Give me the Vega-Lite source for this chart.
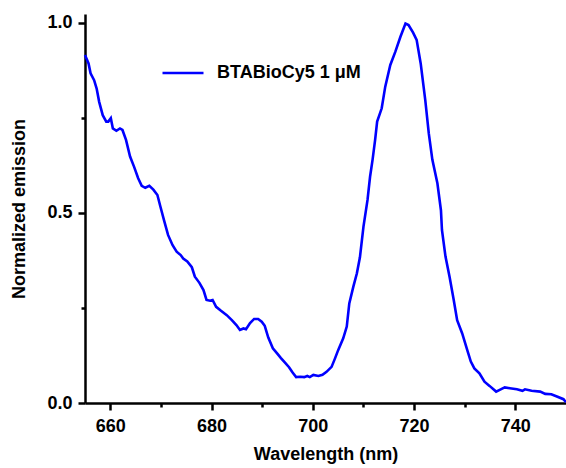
{
  "$schema": "https://vega.github.io/schema/vega-lite/v6.json",
  "width": 481,
  "height": 389,
  "autosize": {"type": "none"},
  "padding": {"left": 85, "top": 14, "right": 0, "bottom": 65},
  "background": "white",
  "config": {"view": {"stroke": null}, "font": "Liberation Sans"},
  "data": {"values": [
    {"wavelength": 655.0, "emission": 0.915},
    {"wavelength": 655.7, "emission": 0.893},
    {"wavelength": 656.1, "emission": 0.867},
    {"wavelength": 656.8, "emission": 0.849},
    {"wavelength": 657.3, "emission": 0.827},
    {"wavelength": 657.8, "emission": 0.792},
    {"wavelength": 658.5, "emission": 0.757},
    {"wavelength": 659.2, "emission": 0.740},
    {"wavelength": 659.6, "emission": 0.740},
    {"wavelength": 660.1, "emission": 0.749},
    {"wavelength": 660.5, "emission": 0.722},
    {"wavelength": 661.2, "emission": 0.716},
    {"wavelength": 661.9, "emission": 0.722},
    {"wavelength": 662.4, "emission": 0.718},
    {"wavelength": 663.1, "emission": 0.692},
    {"wavelength": 663.9, "emission": 0.648},
    {"wavelength": 664.7, "emission": 0.621},
    {"wavelength": 665.5, "emission": 0.591},
    {"wavelength": 666.2, "emission": 0.571},
    {"wavelength": 666.9, "emission": 0.566},
    {"wavelength": 667.7, "emission": 0.571},
    {"wavelength": 668.5, "emission": 0.561},
    {"wavelength": 669.3, "emission": 0.547},
    {"wavelength": 669.9, "emission": 0.516},
    {"wavelength": 670.6, "emission": 0.481},
    {"wavelength": 671.4, "emission": 0.442},
    {"wavelength": 672.3, "emission": 0.415},
    {"wavelength": 673.1, "emission": 0.398},
    {"wavelength": 673.9, "emission": 0.389},
    {"wavelength": 674.4, "emission": 0.380},
    {"wavelength": 675.2, "emission": 0.372},
    {"wavelength": 676.1, "emission": 0.357},
    {"wavelength": 676.7, "emission": 0.332},
    {"wavelength": 677.6, "emission": 0.316},
    {"wavelength": 678.4, "emission": 0.297},
    {"wavelength": 679.0, "emission": 0.271},
    {"wavelength": 679.7, "emission": 0.269},
    {"wavelength": 680.2, "emission": 0.271},
    {"wavelength": 680.9, "emission": 0.253},
    {"wavelength": 681.8, "emission": 0.243},
    {"wavelength": 683.0, "emission": 0.231},
    {"wavelength": 684.0, "emission": 0.218},
    {"wavelength": 684.9, "emission": 0.205},
    {"wavelength": 685.6, "emission": 0.192},
    {"wavelength": 686.3, "emission": 0.196},
    {"wavelength": 686.8, "emission": 0.194},
    {"wavelength": 687.6, "emission": 0.210},
    {"wavelength": 688.4, "emission": 0.221},
    {"wavelength": 689.2, "emission": 0.221},
    {"wavelength": 689.9, "emission": 0.214},
    {"wavelength": 690.5, "emission": 0.203},
    {"wavelength": 691.2, "emission": 0.172},
    {"wavelength": 692.1, "emission": 0.144},
    {"wavelength": 692.9, "emission": 0.131},
    {"wavelength": 693.7, "emission": 0.118},
    {"wavelength": 694.5, "emission": 0.106},
    {"wavelength": 695.3, "emission": 0.094},
    {"wavelength": 696.0, "emission": 0.080},
    {"wavelength": 696.7, "emission": 0.068},
    {"wavelength": 697.5, "emission": 0.069},
    {"wavelength": 698.3, "emission": 0.068},
    {"wavelength": 698.9, "emission": 0.071},
    {"wavelength": 699.4, "emission": 0.068},
    {"wavelength": 700.1, "emission": 0.074},
    {"wavelength": 701.1, "emission": 0.071},
    {"wavelength": 701.9, "emission": 0.074},
    {"wavelength": 702.7, "emission": 0.082},
    {"wavelength": 703.7, "emission": 0.095},
    {"wavelength": 704.4, "emission": 0.118},
    {"wavelength": 705.0, "emission": 0.139},
    {"wavelength": 706.0, "emission": 0.170},
    {"wavelength": 706.7, "emission": 0.201},
    {"wavelength": 707.2, "emission": 0.262},
    {"wavelength": 708.0, "emission": 0.306},
    {"wavelength": 708.7, "emission": 0.341},
    {"wavelength": 709.3, "emission": 0.383},
    {"wavelength": 710.0, "emission": 0.464},
    {"wavelength": 710.8, "emission": 0.534},
    {"wavelength": 711.3, "emission": 0.595},
    {"wavelength": 711.8, "emission": 0.640},
    {"wavelength": 712.3, "emission": 0.692},
    {"wavelength": 712.7, "emission": 0.740},
    {"wavelength": 713.6, "emission": 0.775},
    {"wavelength": 714.3, "emission": 0.832},
    {"wavelength": 715.3, "emission": 0.889},
    {"wavelength": 716.3, "emission": 0.924},
    {"wavelength": 717.3, "emission": 0.963},
    {"wavelength": 718.3, "emission": 0.998},
    {"wavelength": 718.9, "emission": 0.994},
    {"wavelength": 719.8, "emission": 0.974},
    {"wavelength": 720.5, "emission": 0.955},
    {"wavelength": 721.3, "emission": 0.893},
    {"wavelength": 722.2, "emission": 0.797},
    {"wavelength": 722.9, "emission": 0.709},
    {"wavelength": 723.6, "emission": 0.640},
    {"wavelength": 724.6, "emission": 0.578},
    {"wavelength": 725.3, "emission": 0.507},
    {"wavelength": 725.5, "emission": 0.455},
    {"wavelength": 726.2, "emission": 0.385},
    {"wavelength": 727.0, "emission": 0.332},
    {"wavelength": 727.8, "emission": 0.273},
    {"wavelength": 728.5, "emission": 0.218},
    {"wavelength": 729.5, "emission": 0.183},
    {"wavelength": 730.5, "emission": 0.139},
    {"wavelength": 731.2, "emission": 0.109},
    {"wavelength": 731.9, "emission": 0.091},
    {"wavelength": 732.9, "emission": 0.078},
    {"wavelength": 733.9, "emission": 0.056},
    {"wavelength": 734.9, "emission": 0.045},
    {"wavelength": 736.2, "emission": 0.030},
    {"wavelength": 737.1, "emission": 0.036},
    {"wavelength": 737.9, "emission": 0.041},
    {"wavelength": 738.9, "emission": 0.039},
    {"wavelength": 740.3, "emission": 0.036},
    {"wavelength": 741.4, "emission": 0.032},
    {"wavelength": 741.9, "emission": 0.036},
    {"wavelength": 743.2, "emission": 0.032},
    {"wavelength": 744.9, "emission": 0.030},
    {"wavelength": 745.9, "emission": 0.024},
    {"wavelength": 747.1, "emission": 0.023},
    {"wavelength": 748.2, "emission": 0.017},
    {"wavelength": 749.5, "emission": 0.010},
    {"wavelength": 750.0, "emission": 0.002}
  ]},
  "layer": [
    {
      "mark": {"type": "line", "strokeWidth": 2.6, "interpolate": "linear"},
      "encoding": {
        "x": {
          "field": "wavelength", "type": "quantitative",
          "scale": {"domain": [655, 750], "nice": false, "zero": false},
          "axis": {
            "values": [660, 680, 700, 720, 740],
            "title": "Wavelength (nm)",
            "titleFont": "Liberation Sans", "titleFontSize": 18, "titleFontWeight": "bold", "titleColor": "black",
            "labelFont": "Liberation Sans", "labelFontSize": 18, "labelFontWeight": "bold", "labelColor": "black",
            "labelFlush": false, "labelPadding": 7, "titlePadding": 10,
            "domainColor": "black", "domainWidth": 2.5,
            "tickColor": "black", "tickWidth": 2.5, "tickSize": 7,
            "grid": false
          }
        },
        "y": {
          "field": "emission", "type": "quantitative",
          "scale": {"domain": [0, 1.023], "nice": false},
          "axis": {
            "values": [0, 0.5, 1.0],
            "format": ".1f",
            "title": "Normalized emission",
            "titleFont": "Liberation Sans", "titleFontSize": 18, "titleFontWeight": "bold", "titleColor": "black",
            "labelFont": "Liberation Sans", "labelFontSize": 18, "labelFontWeight": "bold", "labelColor": "black",
            "labelFlush": false, "labelPadding": 6, "titlePadding": 18,
            "domainColor": "black", "domainWidth": 2.5,
            "tickColor": "black", "tickWidth": 2.5, "tickSize": 7,
            "grid": false
          }
        },
        "color": {
          "datum": "BTABioCy5 1 μM", "type": "nominal",
          "scale": {"range": ["#0000ff"]},
          "legend": {
            "title": null, "orient": "none", "legendX": 76, "legendY": 37,
            "symbolType": "stroke", "symbolSize": 1681, "symbolStrokeWidth": 2.6,
            "labelFont": "Liberation Sans", "labelFontSize": 18, "labelFontWeight": "bold", "labelColor": "black",
            "labelOffset": 12, "padding": 0
          }
        }
      }
    },
    {
      "mark": {"type": "line", "strokeOpacity": 0},
      "encoding": {
        "x": {
          "field": "wavelength", "type": "quantitative",
          "axis": {
            "orient": "bottom", "values": [670, 690, 710, 730], "labels": false, "domain": false,
            "title": null, "grid": false, "tickColor": "black", "tickWidth": 2.5, "tickSize": 4
          }
        },
        "y": {
          "field": "emission", "type": "quantitative",
          "axis": {
            "orient": "left", "values": [0.25, 0.75], "labels": false, "domain": false,
            "title": null, "grid": false, "tickColor": "black", "tickWidth": 2.5, "tickSize": 4
          }
        }
      }
    }
  ],
  "resolve": {"axis": {"x": "independent", "y": "independent"}}
}
